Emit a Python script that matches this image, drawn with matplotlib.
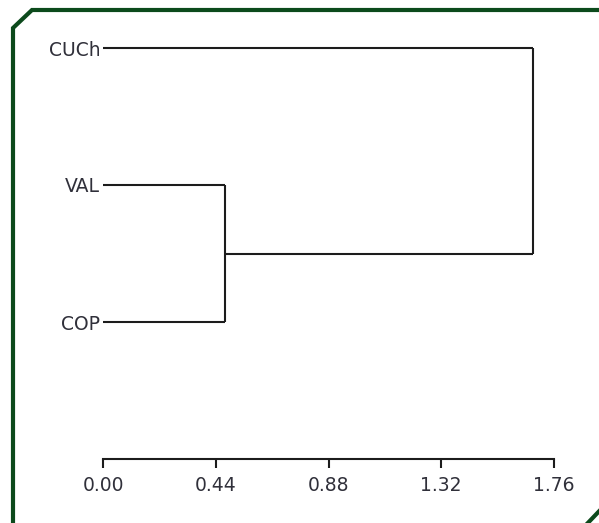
import matplotlib
matplotlib.use("Agg")
import matplotlib.pyplot as plt
from matplotlib.lines import Line2D

# leaves, top to bottom
leaf_labels = ["CUCh", "VAL", "COP"]
# merges: (left member, right member, height); members are leaf index or "c<n>" cluster
merges = [(1, 2, 0.476), (0, "c0", 1.678)]
tick_values = [0.00, 0.44, 0.88, 1.32, 1.76]

W, H = 599, 523
fig = plt.figure(figsize=(W / 100, H / 100), dpi=100)
fig.patch.set_facecolor("white")

# axes placed so that leaf 0 sits at y=48px and the scale at y=459px
ax = fig.add_axes([103 / W, 1 - 459 / H, 451 / W, 411 / H])
ax.set_xlim(0, 1.76)
ax.set_ylim(3, 0)

line_kw = dict(color="#1c1c1c", lw=1.5, solid_capstyle="butt", clip_on=False)

# position (y) and height (x) of each node
pos = {i: float(i) for i in range(len(leaf_labels))}
hgt = {i: 0.0 for i in range(len(leaf_labels))}
for k, (a, b, h) in enumerate(merges):
    for m in (a, b):
        ax.plot([hgt[m], h], [pos[m], pos[m]], **line_kw)
    ax.plot([h, h], [pos[a], pos[b]], **line_kw)
    pos["c%d" % k] = (pos[a] + pos[b]) / 2
    hgt["c%d" % k] = h

ax.set_yticks(range(len(leaf_labels)))
ax.set_yticklabels(leaf_labels)
ax.set_xticks(tick_values)
ax.set_xticklabels(["%.2f" % v for v in tick_values])

for s in ["left", "right", "top"]:
    ax.spines[s].set_visible(False)
ax.spines["bottom"].set_linewidth(1.5)
ax.spines["bottom"].set_color("#1c1c1c")
ax.tick_params(axis="y", length=0, pad=2, labelsize=13.5, labelcolor="#30303a")
ax.tick_params(axis="x", direction="out", length=6.5, width=1.5, color="#1c1c1c",
               pad=6, labelsize=13.5, labelcolor="#30303a")
ax.patch.set_alpha(0)

# dark green frame with cut corners
def px(xs, ys):
    return [x / W for x in xs], [1 - y / H for y in ys]

green = "#0c4a1c"
bx, by = px([13, 13, 32, 605], [530, 28, 10, 10])
fig.add_artist(Line2D(bx, by, transform=fig.transFigure, color=green, lw=3,
                      solid_joinstyle="miter"))
cx, cy = px([584, 606], [527, 504])
fig.add_artist(Line2D(cx, cy, transform=fig.transFigure, color=green, lw=3))

fig.savefig("out.png", dpi=100)
